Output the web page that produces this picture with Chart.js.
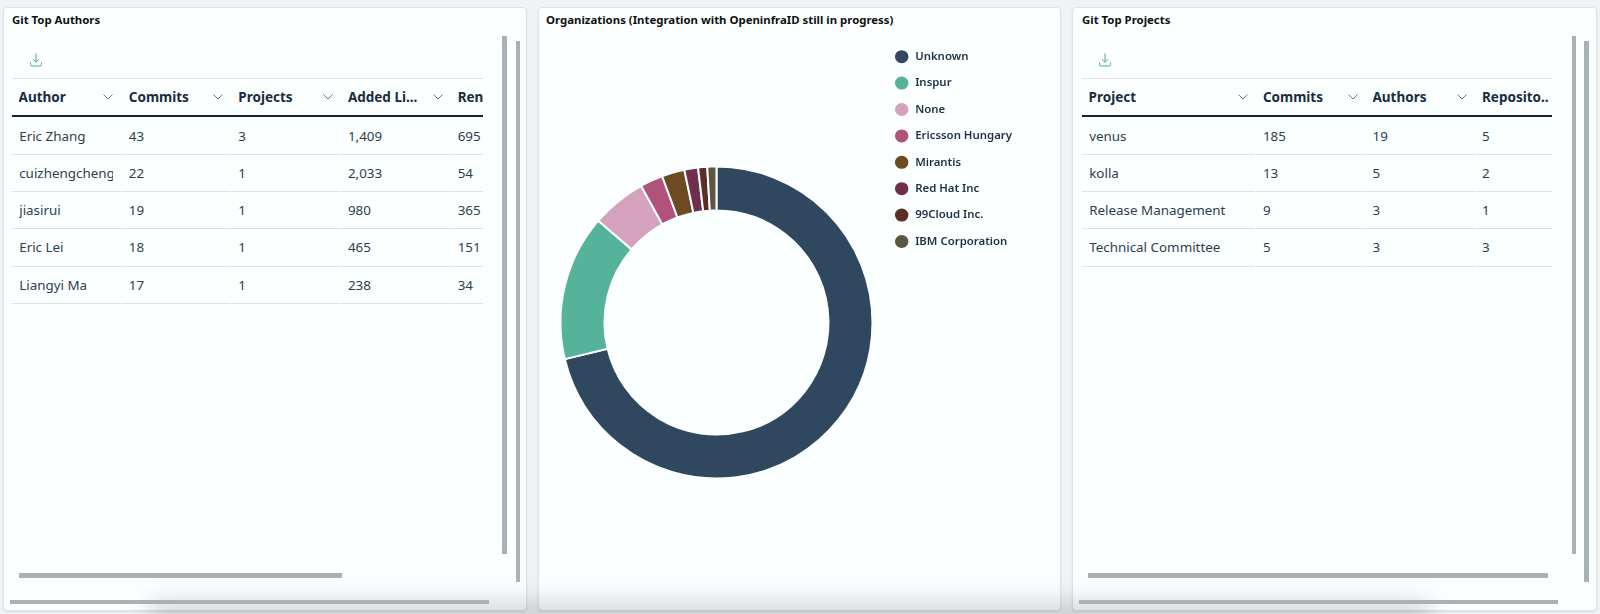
<!DOCTYPE html>
<html>
<head>
<meta charset="utf-8">
<title>Git dashboard</title>
<script src="https://cdn.jsdelivr.net/npm/chart.js@4/dist/chart.umd.min.js"></script>
<style>
html, body { margin: 0; padding: 0; width: 1600px; height: 614px; overflow: hidden; background: #f0f2f5; font-family: "Noto Sans", sans-serif; }
.panel { position: absolute; top: 7px; height: 604px; background: #fbffff; border: 1px solid #dfe3e8; border-radius: 4px; box-sizing: border-box; box-shadow: 0 1px 2px rgba(0,0,0,.08); }
.title { position: absolute; top: 20.4px; font-size: 11.4px; font-weight: 700; color: #111; line-height: 1; transform: translateY(-50%); white-space: nowrap; }
.bar { position: absolute; background: #a8b0b8; }
.line { position: absolute; height: 1px; background: #dde2e5; }
.gap { position: absolute; width: 1px; height: 1px; background: #fbffff; }
.thick { position: absolute; height: 2px; background: #14233a; }
.cell { position: absolute; font-size: 13.4px; color: #2f3d4c; line-height: 20px; white-space: nowrap; overflow: hidden; }
.head { position: absolute; font-size: 13.5px; font-weight: 700; color: #1a2b40; line-height: 20px; white-space: nowrap; overflow: hidden; }
.chev { position: absolute; }
.chev svg { display: block; }
canvas { position: absolute; }
#fade { position: absolute; left: 150px; top: 602px; width: 1280px; height: 26px; background: rgba(0,0,0,.17); filter: blur(12px); pointer-events: none; }
</style>
</head>
<body>
<div class="panel" style="left:3px;width:524px"></div>
<div class="panel" style="left:538px;width:523px"></div>
<div class="panel" style="left:1072px;width:525px"></div>
<div class="title" style="left:12px">Git Top Authors</div>
<div class="title" style="left:546px">Organizations (Integration with OpeninfraID still in progress)</div>
<div class="title" style="left:1082px">Git Top Projects</div>
<canvas id="orgChart" width="468" height="573" style="left:554px;top:35.5px"></canvas>
<div id="fade"></div>

<script>
const orgNames = ['Unknown', 'Inspur', 'None', 'Ericsson Hungary', 'Mirantis', 'Red Hat Inc', '99Cloud Inc.', 'IBM Corporation'];
const orgCommits = [151, 32, 12, 5, 5, 3, 2, 2];
const orgColors = ['#2f4860', '#54b399', '#d4a2bd', '#b0527a', '#6e4a22', '#6f2e4c', '#5b3024', '#5e5542'];

const authorHeaders = ['Author', 'Commits', 'Projects', 'Added Li...', 'Ren'];
const authorNames = ['Eric Zhang', 'cuizhengcheng', 'jiasirui', 'Eric Lei', 'Liangyi Ma'];
const authorCommits = ['43', '22', '19', '18', '17'];
const authorProjects = ['3', '1', '1', '1', '1'];
const authorAdded = ['1,409', '2,033', '980', '465', '238'];
const authorRemoved = ['695', '54', '365', '151', '34'];

const projectHeaders = ['Project', 'Commits', 'Authors', 'Reposito..'];
const projectNames = ['venus', 'kolla', 'Release Management', 'Technical Committee'];
const projectCommits = ['185', '13', '9', '5'];
const projectAuthors = ['19', '5', '3', '3'];
const projectRepos = ['5', '2', '1', '3'];

// Table geometry
const headerY = 97;
const rowTops = [135.5, 172.8, 210, 247.4, 284.7];
const lineTops = [153.5, 191, 228.3, 265.7, 303];

function add(className, styles, text) {
    const el = document.createElement('div');
    el.className = className;
    Object.assign(el.style, styles);
    if (text !== undefined) el.textContent = text;
    document.body.appendChild(el);
    return el;
}

function addSvg(markup, left, top, width, height) {
    const wrap = add('chev', { left: left + 'px', top: top + 'px', width: width + 'px', height: height + 'px' });
    wrap.innerHTML = markup;
}

function drawTable(cfg) {
    const width = cfg.right - cfg.left;
    add('line', { left: cfg.left + 'px', top: '78px', width: width + 'px' });
    add('thick', { left: cfg.left + 'px', top: '115px', width: width + 'px' });

    cfg.headers.forEach((h, i) => {
        const clip = Math.min(cfg.headerX[i + 1] ? cfg.headerX[i + 1] : cfg.right, cfg.right) - cfg.headerX[i] - 26;
        add('head', {
            left: cfg.headerX[i] + 'px', top: (headerY - 10) + 'px',
            width: (i === cfg.headers.length - 1 ? cfg.right - cfg.headerX[i] : clip + 20) + 'px'
        }, h);
        if (cfg.chevX[i]) {
            addSvg('<svg width="10" height="6"><path d="M0.5 0.5 L5 5 L9.5 0.5" fill="none" stroke="#5a6775" stroke-width="0.9"/></svg>',
                cfg.chevX[i] - 5, headerY - 3, 10, 6);
        }
    });

    cfg.columns.forEach((col, c) => {
        col.forEach((value, r) => {
            const x = c === 0 ? cfg.headerX[0] + 0.6 : cfg.headerX[c];
            const next = c === cfg.columns.length - 1 ? cfg.right : cfg.sepX[c];
            add('cell', {
                left: x + 'px', top: (rowTops[r] - 10) + 'px',
                width: (c === 0 ? cfg.firstClip - x : next - x) + 'px'
            }, value);
        });
    });

    cfg.columns[0].forEach((_, r) => {
        add('line', { left: cfg.left + 'px', top: lineTops[r] + 'px', width: width + 'px' });
        cfg.sepX.forEach(x => add('gap', { left: x + 'px', top: lineTops[r] + 'px' }));
    });

    addSvg('<svg width="16" height="16" viewBox="0 0 16 16" fill="none" stroke="#4fa596" stroke-width="1"><path d="M8 1.5 V10 M5 7.2 L8 10.2 L11 7.2"/><path d="M2.5 10.5 V12.5 Q2.5 14 4 14 H12 Q13.5 14 13.5 12.5 V10.5"/></svg>',
        cfg.iconX - 8, 52, 16, 16);
}

drawTable({
    left: 12, right: 483, firstClip: 113.5, iconX: 35.5,
    headers: authorHeaders,
    headerX: [18.6, 128.8, 238.3, 347.9, 457.7],
    chevX: [108, 218, 328, 438],
    sepX: [121, 230, 340, 450],
    columns: [authorNames, authorCommits, authorProjects, authorAdded, authorRemoved]
});

drawTable({
    left: 1081.5, right: 1552, firstClip: 1250, iconX: 1104.6,
    headers: projectHeaders,
    headerX: [1088.6, 1262.9, 1372.5, 1482],
    chevX: [1243, 1352.5, 1462],
    sepX: [1255, 1365, 1475],
    columns: [projectNames, projectCommits, projectAuthors, projectRepos]
});

// Scrollbars
[
    [502.4, 36, 4.4, 518], [515.5, 41, 4.2, 541], [19, 573.4, 323, 4.6], [10, 600, 479, 4.4],
    [1571.8, 36, 4.2, 518], [1584.4, 41, 4.4, 541], [1087.5, 573.4, 460, 4.6], [1078.6, 600, 479.4, 4.4]
].forEach(([l, t, w, h]) => {
    add('bar', { left: l + 'px', top: t + 'px', width: w + 'px', height: h + 'px' });
});

new Chart(document.getElementById('orgChart').getContext('2d'), {
    type: 'doughnut',
    data: {
        labels: orgNames,
        datasets: [{
            data: orgCommits,
            backgroundColor: orgColors,
            borderColor: '#fbffff',
            borderWidth: 2,
            radius: 156,
            cutout: '71.8%'
        }]
    },
    options: {
        responsive: false,
        animation: false,
        plugins: {
            tooltip: { enabled: false },
            legend: {
                position: 'right',
                align: 'start',
                labels: {
                    usePointStyle: true,
                    pointStyle: 'circle',
                    pointStyleWidth: 15.5,
                    boxHeight: 10.6,
                    padding: 15,
                    color: '#1f2f45',
                    font: { family: '"Noto Sans", sans-serif', size: 11.4, weight: '600' }
                }
            }
        }
    }
});
</script>
</body>
</html>
